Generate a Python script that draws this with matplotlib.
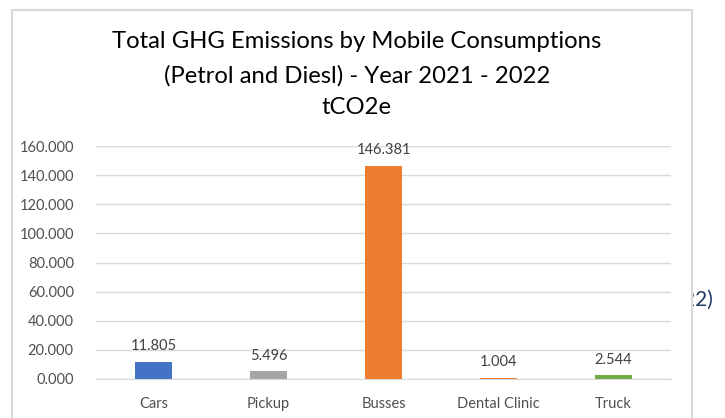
import matplotlib.pyplot as plt
from matplotlib.patches import Rectangle
from matplotlib.transforms import Bbox

categories = ['Cars', 'Pickup', 'Busses', 'Dental Clinic', 'Truck']
emissions = [11.805, 5.496, 146.381, 1.004, 2.544]
bar_colors = ['#4472C4', '#A5A5A5', '#ED7D31', '#ED7D31', '#70AD47']
y_ticks = [0, 20, 40, 60, 80, 100, 120, 140, 160]

plt.rcParams['font.family'] = ['Lato', 'DejaVu Sans']

fig = plt.figure(figsize=(7.25, 4.18), dpi=100)
# chart frame
fig.patches.append(Rectangle((12 / 725, -0.01), 680 / 725, 1 - 10 / 418 + 0.01,
                             transform=fig.transFigure, fill=False,
                             edgecolor='#D9D9D9', linewidth=1.5))

ax = fig.add_axes([96 / 725, 1 - 379 / 418, 575 / 725, 233 / 418])
x = range(len(categories))
ax.bar(x, emissions, width=0.33, color=bar_colors, zorder=3)
for i, v in enumerate(emissions):
    ax.annotate(f'{v:.3f}', (i, v), xytext=(0, 6), textcoords='offset points',
                ha='center', va='bottom', fontsize=10.5, color='#404040')

ax.set_ylim(0, 160)
ax.set_xlim(-0.5, len(categories) - 0.5)
ax.set_yticks(y_ticks)
ax.set_yticklabels([f'{t:.3f}' for t in y_ticks])
ax.set_xticks(list(x))
ax.set_xticklabels(categories)
ax.tick_params(axis='both', length=0, labelsize=10.5, colors='#505050')
ax.tick_params(axis='y', pad=16)
ax.tick_params(axis='x', pad=13)
ax.grid(axis='y', color='#D9D9D9', linewidth=1, zorder=0)
for s in ['top', 'right', 'left']:
    ax.spines[s].set_visible(False)
ax.spines['bottom'].set_color('#D9D9D9')

title_lines = ['Total GHG Emissions by Mobile Consumptions',
               '(Petrol and Diesl) - Year 2021 - 2022',
               'tCO2e']
for line, ypix in zip(title_lines, [42, 76, 108]):
    fig.text(357 / 725, 1 - ypix / 418, line, ha='center', va='center',
             fontsize=17.2, color='#000000')

# text of the surrounding page, partly hidden behind the chart frame
t = fig.text(683 / 725, 1 - 300 / 418, '22)', ha='left', va='center',
             fontsize=15, color='#1F3864')
t.set_clip_box(Bbox.from_extents(693, 0, 725, 418))

fig.savefig('out.png', dpi=100)
